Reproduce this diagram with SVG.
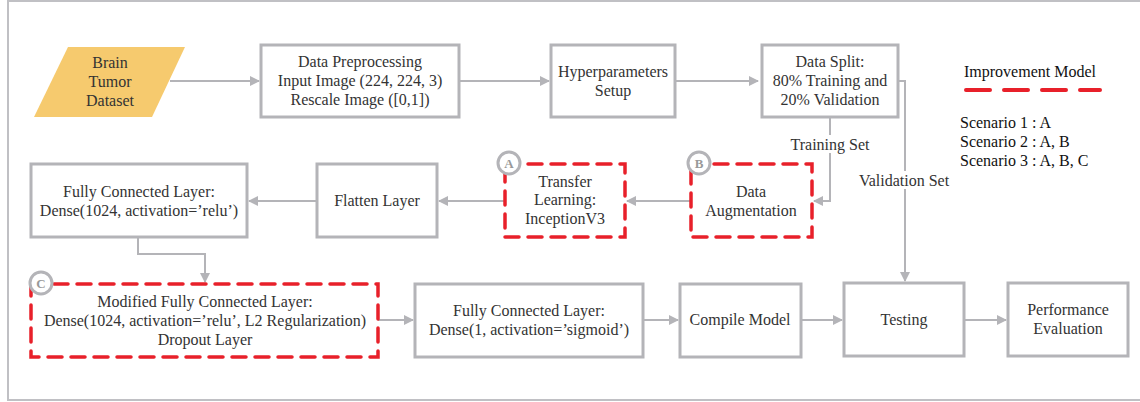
<svg xmlns="http://www.w3.org/2000/svg" width="1140" height="402" viewBox="0 0 1140 402" font-family="Liberation Serif, Times New Roman, serif">
<defs>
<style>
text{font-size:16px;fill:#333;text-anchor:middle}
.box{fill:#fff;stroke:#b4b4b8;stroke-width:3}
.rbox{fill:#fff;stroke:#e8202a;stroke-width:3.5;stroke-dasharray:14 9;stroke-linecap:round}
.ln{fill:none;stroke:#b4b4b8;stroke-width:2}
.circ{fill:#fff;stroke:#b4b4b8;stroke-width:3}
.ct{font-weight:bold;fill:#999;font-size:13px}
.blk{fill:#111;text-anchor:start}
</style>
<marker id="ah" markerWidth="10" markerHeight="10" refX="9" refY="5" orient="auto" markerUnits="userSpaceOnUse" viewBox="0 0 10 10">
<path d="M0,0 L10,5 L0,10 z" fill="#b4b4b8"/>
</marker>
</defs>
<rect x="0" y="0" width="1140" height="402" fill="#fff"/>
<rect x="8" y="1" width="1150" height="399" fill="none" stroke="#c0c0c4" stroke-width="2"/>

<g id="connectors">
<line class="ln" x1="170" y1="81" x2="259" y2="81" marker-end="url(#ah)"/>
<line class="ln" x1="459" y1="81" x2="549" y2="81" marker-end="url(#ah)"/>
<line class="ln" x1="675" y1="81" x2="758" y2="81" marker-end="url(#ah)"/>
<polyline class="ln" points="830,117 830,201 814,201" marker-end="url(#ah)"/>
<polyline class="ln" points="898,81 905,81 905,281" marker-end="url(#ah)"/>
<line class="ln" x1="691" y1="201" x2="627" y2="201" marker-end="url(#ah)"/>
<line class="ln" x1="505" y1="201" x2="439" y2="201" marker-end="url(#ah)"/>
<line class="ln" x1="317" y1="201" x2="249" y2="201" marker-end="url(#ah)"/>
<polyline class="ln" points="138,237 138,254 205,254 205,282" marker-end="url(#ah)"/>
<line class="ln" x1="378" y1="320" x2="413" y2="320" marker-end="url(#ah)"/>
<line class="ln" x1="643" y1="320" x2="678" y2="320" marker-end="url(#ah)"/>
<line class="ln" x1="801" y1="320" x2="842" y2="320" marker-end="url(#ah)"/>
<line class="ln" x1="964" y1="320" x2="1006" y2="320" marker-end="url(#ah)"/>
<rect x="787" y="135" width="86" height="18" fill="#fff"/>
<text x="830" y="150">Training Set</text>
<rect x="857" y="171" width="95" height="18" fill="#fff"/>
<text x="904" y="186">Validation Set</text>
</g>

<g id="dataset">
<polygon points="68,47 185,47 152,117 34,117" fill="#f6ca6e"/>
<text x="110" y="68">Brain</text>
<text x="110" y="87">Tumor</text>
<text x="110" y="106">Dataset</text>
</g>

<g id="preprocessing">
<rect class="box" x="261" y="45" width="198" height="72"/>
<text x="360" y="67">Data Preprocessing</text>
<text x="360" y="86">Input Image (224, 224, 3)</text>
<text x="360" y="105">Rescale Image ([0,1])</text>
</g>

<g id="hyper">
<rect class="box" x="551" y="45" width="124" height="72"/>
<text x="613" y="77">Hyperparameters</text>
<text x="613" y="96">Setup</text>
</g>

<g id="split">
<rect class="box" x="762" y="45" width="136" height="72"/>
<text x="830" y="67">Data Split:</text>
<text x="830" y="86">80% Training and</text>
<text x="830" y="105">20% Validation</text>
</g>

<g id="legend">
<text class="blk" x="964" y="77">Improvement Model</text>
<line x1="966" y1="90" x2="1100" y2="90" stroke="#e8202a" stroke-width="4" stroke-dasharray="24 14" stroke-linecap="round"/>
<text class="blk" x="960" y="128">Scenario 1 : A</text>
<text class="blk" x="960" y="147">Scenario 2 : A, B</text>
<text class="blk" x="960" y="166">Scenario 3 : A, B, C</text>
</g>

<g id="augmentation">
<rect class="rbox" x="691" y="164" width="121" height="73"/>
<text x="751" y="197">Data</text>
<text x="751" y="216">Augmentation</text>
<circle class="circ" cx="699" cy="163" r="11"/>
<text class="ct" x="699" y="168">B</text>
</g>

<g id="transfer">
<rect class="rbox" x="505" y="164" width="120" height="73"/>
<text x="565" y="187">Transfer</text>
<text x="565" y="205">Learning:</text>
<text x="565" y="224">InceptionV3</text>
<circle class="circ" cx="509" cy="163" r="11"/>
<text class="ct" x="509" y="168">A</text>
</g>

<g id="flatten">
<rect class="box" x="317" y="164" width="120" height="73"/>
<text x="377" y="206">Flatten Layer</text>
</g>

<g id="fc1">
<rect class="box" x="31" y="164" width="216" height="73"/>
<text x="139" y="197">Fully Connected Layer:</text>
<text x="139" y="216">Dense(1024, activation=’relu’)</text>
</g>

<g id="modified">
<rect class="rbox" x="31" y="284" width="347" height="73"/>
<text x="205" y="307">Modified Fully Connected Layer:</text>
<text x="205" y="326">Dense(1024, activation=’relu’, L2 Regularization)</text>
<text x="205" y="345">Dropout Layer</text>
<circle class="circ" cx="41" cy="283" r="11"/>
<text class="ct" x="41" y="288">C</text>
</g>

<g id="fc2">
<rect class="box" x="415" y="284" width="228" height="73"/>
<text x="529" y="316">Fully Connected Layer:</text>
<text x="529" y="335">Dense(1, activation=’sigmoid’)</text>
</g>

<g id="compile">
<rect class="box" x="680" y="284" width="121" height="73"/>
<text x="740" y="325">Compile Model</text>
</g>

<g id="testing">
<rect class="box" x="844" y="283" width="120" height="73"/>
<text x="904" y="325">Testing</text>
</g>

<g id="performance">
<rect class="box" x="1008" y="283" width="120" height="73"/>
<text x="1068" y="315">Performance</text>
<text x="1068" y="334">Evaluation</text>
</g>
</svg>
